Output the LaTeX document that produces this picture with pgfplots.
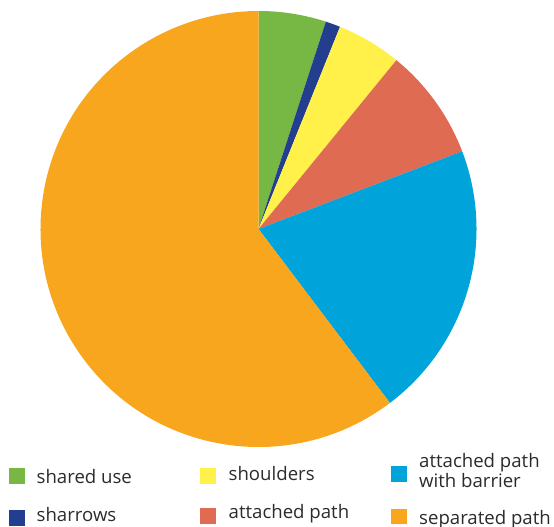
\documentclass[border=0pt]{standalone}
\usepackage{pgfplots}
\usepackage{pgfplotstable}
\pgfplotsset{compat=1.18}
\usepackage{fontspec}
\setmainfont{Open Sans}
\definecolor{cGreen}{HTML}{76B843}
\definecolor{cNavy}{HTML}{233E8E}
\definecolor{cYellow}{HTML}{FFF04A}
\definecolor{cRed}{HTML}{DF6B53}
\definecolor{cBlue}{HTML}{00A3DA}
\definecolor{cOrange}{HTML}{F8A61E}
\definecolor{cText}{HTML}{2B2B2B}
\pgfplotstableread{
name value color
shareduse 5.0 cGreen
sharrows 1.1 cNavy
shoulders 4.8 cYellow
attached 8.3 cRed
barrier 20.5 cBlue
separated 60.3 cOrange
}\piedata
\begin{document}
\begin{tikzpicture}
\path[use as bounding box] (0,0) rectangle (554bp,527bp);
\begin{axis}[
  at={(258.5bp,298bp)}, anchor=center,
  scale only axis, width=436bp, height=436bp,
  xmin=-1, xmax=1, ymin=-1, ymax=1,
  hide axis, clip=false]
\pgfplotstablegetrowsof{\piedata}
\pgfmathtruncatemacro\N{\pgfplotsretval-1}
\def\cum{0}
\pgfplotsforeachungrouped \i in {0,...,\N}{
  \pgfplotstablegetelem{\i}{value}\of\piedata \let\v\pgfplotsretval
  \pgfplotstablegetelem{\i}{color}\of\piedata \let\c\pgfplotsretval
  \pgfmathsetmacro\a{90-\cum*3.6}
  \pgfmathsetmacro\b{90-(\cum+\v)*3.6}
  \edef\temp{\noexpand\fill[\c] (axis cs:0,0) -- (axis cs:{cos(\a)},{sin(\a)}) arc[start angle=\a, end angle=\b, radius=218bp] -- cycle;}
  \temp
  \pgfmathsetmacro\cum{\cum+\v}
}
\end{axis}
\begin{scope}[every node/.style={inner sep=0pt, anchor=base west, text=cText, font=\fontsize{18.6bp}{16bp}\selectfont}]
\fill[cGreen] (9bp,43bp) rectangle (25bp,58.7bp);
\fill[cNavy] (9bp,1.3bp) rectangle (25bp,17bp);
\fill[cYellow] (200bp,43bp) rectangle (215.7bp,58.7bp);
\fill[cRed] (200bp,3bp) rectangle (215.7bp,18.7bp);
\fill[cBlue] (391bp,45.3bp) rectangle (406.7bp,61.3bp);
\fill[cOrange] (391bp,2.7bp) rectangle (406.7bp,18bp);
\node at (36.5bp,43.7bp) {shared use};
\node at (36.5bp,5.3bp) {sharrows};
\node at (228.5bp,46bp) {shoulders};
\node at (228.5bp,8.7bp) {attached path};
\node[align=left] at (419bp,39.7bp) {attached path\\with barrier};
\node at (419bp,3bp) {separated path};
\end{scope}
\end{tikzpicture}
\end{document}
